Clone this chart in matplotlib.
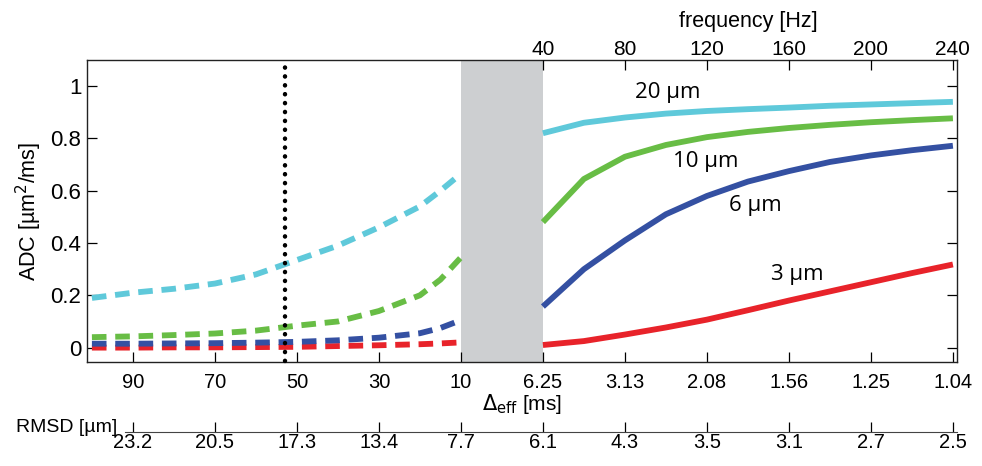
import numpy as np
import matplotlib
matplotlib.use("Agg")
import matplotlib.pyplot as plt

plt.rcParams['font.family'] = ['Liberation Sans', 'DejaVu Sans']

# --- data ---
# left part: effective diffusion time (ms), dashed curves
delta_ms = [100, 90, 80, 70, 60, 50, 40, 30, 20, 15, 10]
adc_dash_20 = [0.19, 0.21, 0.225, 0.245, 0.28, 0.335, 0.39, 0.46, 0.54, 0.60, 0.665]
adc_dash_10 = [0.04, 0.043, 0.048, 0.054, 0.065, 0.084, 0.10, 0.14, 0.20, 0.26, 0.345]
adc_dash_6 = [0.015, 0.015, 0.016, 0.017, 0.019, 0.022, 0.028, 0.038, 0.055, 0.075, 0.105]
adc_dash_3 = [0.0, 0.0, 0.001, 0.001, 0.002, 0.003, 0.006, 0.009, 0.013, 0.016, 0.02]

# right part: oscillating gradient frequency (Hz), solid curves
freq_hz = [40, 60, 80, 100, 120, 140, 160, 180, 200, 220, 240]
adc_solid_20 = [0.82, 0.86, 0.88, 0.895, 0.905, 0.912, 0.918, 0.925, 0.93, 0.935, 0.94]
adc_solid_10 = [0.48, 0.645, 0.73, 0.775, 0.805, 0.825, 0.84, 0.852, 0.862, 0.87, 0.877]
adc_solid_6 = [0.157, 0.30, 0.41, 0.51, 0.58, 0.635, 0.675, 0.71, 0.735, 0.755, 0.772]
adc_solid_3 = [0.01, 0.025, 0.05, 0.077, 0.107, 0.143, 0.18, 0.215, 0.25, 0.285, 0.318]

delta_ticks = [90, 70, 50, 30, 10]
freq_ticks = [40, 80, 120, 160, 200, 240]
freq_delta_labels = ['6.25', '3.13', '2.08', '1.56', '1.25', '1.04']
rmsd_labels = ['23.2', '20.5', '17.3', '13.4', '7.7', '6.1', '4.3', '3.5', '3.1', '2.7', '2.5']
marker_delta = 53

sizes = ['20 µm', '10 µm', '6 µm', '3 µm']
colors = ['#5fc9da', '#68bd45', '#3450a2', '#e8232a']


# piecewise x position: delta part, gap (grey block), frequency part
def pos_delta(d):
    return (100 - np.asarray(d, float)) / 20.0


def pos_freq(f):
    return 5.5 + (np.asarray(f, float) - 40) / 40.0


xmin, xmax = -0.06, 10.55

fig = plt.figure(figsize=(9.82, 4.66), dpi=100)
ax = fig.add_axes([87 / 982, 1 - 362 / 466, 870 / 982, 302 / 466])

dash_sets = [adc_dash_20, adc_dash_10, adc_dash_6, adc_dash_3]
solid_sets = [adc_solid_20, adc_solid_10, adc_solid_6, adc_solid_3]

for ys, c in zip(dash_sets[::-1], colors[::-1]):
    ax.plot(pos_delta(delta_ms), ys, color=c, lw=4.2,
            linestyle=(0, (2.5, 1.5)), dash_capstyle='butt', zorder=3)
for ys, c in zip(solid_sets, colors):
    ax.plot(pos_freq(freq_hz), ys, color=c, lw=4.2, solid_capstyle='butt', zorder=3)

ax.axvspan(pos_delta(10), pos_freq(40), color='#cdcfd1', lw=0, zorder=1)
ax.plot([pos_delta(marker_delta)] * 2, [-0.05, 1.08], color='black', lw=3.2,
        linestyle=(0, (0.05, 1.95)), dash_capstyle='round', zorder=4, clip_on=False)

# curve labels
label_pos = [(7.02, 0.975), (7.48, 0.71), (8.09, 0.545), (8.6, 0.28)]
for txt, (x, y) in zip(sizes, label_pos):
    ax.text(x, y, txt, fontsize=16, family=['Open Sans', 'DejaVu Sans'],
            ha='center', va='center', zorder=5)

ax.set_xlim(xmin, xmax)
ax.set_ylim(-0.055, 1.1)
ax.set_yticks([0, 0.2, 0.4, 0.6, 0.8, 1])
ax.set_yticklabels(['0', '0.2', '0.4', '0.6', '0.8', '1'])
xt = list(pos_delta(delta_ticks)) + list(pos_freq(freq_ticks))
ax.set_xticks(xt)
ax.set_xticklabels([str(d) for d in delta_ticks] + freq_delta_labels)
ax.tick_params(axis='both', direction='in', length=7, width=0.9, right=True, top=False)
ax.tick_params(axis='y', labelsize=16, pad=4)
ax.tick_params(axis='x', labelsize=14.5, pad=8)
ax.set_xlabel(r'$\Delta_{\rm eff}$ [ms]', fontsize=15)
ax.xaxis.set_label_coords((5.24 - xmin) / (xmax - xmin), -0.1)
ax.set_ylabel('ADC [µm$^2$/ms]', fontsize=15.5, labelpad=5)
for s in ax.spines.values():
    s.set_linewidth(1.0)
    s.set_color('#222222')

# top frequency axis
ax_top = ax.twiny()
ax_top.set_xlim(xmin, xmax)
ax_top.set_xticks(pos_freq(freq_ticks))
ax_top.set_xticklabels([str(f) for f in freq_ticks])
ax_top.tick_params(axis='x', direction='in', length=7, width=0.9, labelsize=15, pad=1)
ax_top.set_xlabel('frequency [Hz]', fontsize=15.5)
ax_top.xaxis.set_label_coords((8.0 - xmin) / (xmax - xmin), 1.11)
for s in ax_top.spines.values():
    s.set_visible(False)

# RMSD axis below
ax_r = fig.add_axes([87 / 982, 1 - 432 / 466, 870 / 982, 0.001])
ax_r.set_xlim(xmin, xmax)
ax_r.set_ylim(0, 1)
ax_r.set_yticks([])
ax_r.set_xticks(xt)
ax_r.set_xticklabels(rmsd_labels)
ax_r.tick_params(axis='x', direction='in', length=7, width=0.9, labelsize=14.5, pad=1)
for k in ['left', 'right', 'top']:
    ax_r.spines[k].set_visible(False)
ax_r.spines['bottom'].set_bounds(0.4, xmax)
ax_r.spines['bottom'].set_color('#444444')
ax_r.patch.set_visible(False)
fig.text(16 / 982, 1 - 427 / 466, 'RMSD [µm]', fontsize=14, ha='left', va='center')

fig.savefig('out.png', dpi=100)
